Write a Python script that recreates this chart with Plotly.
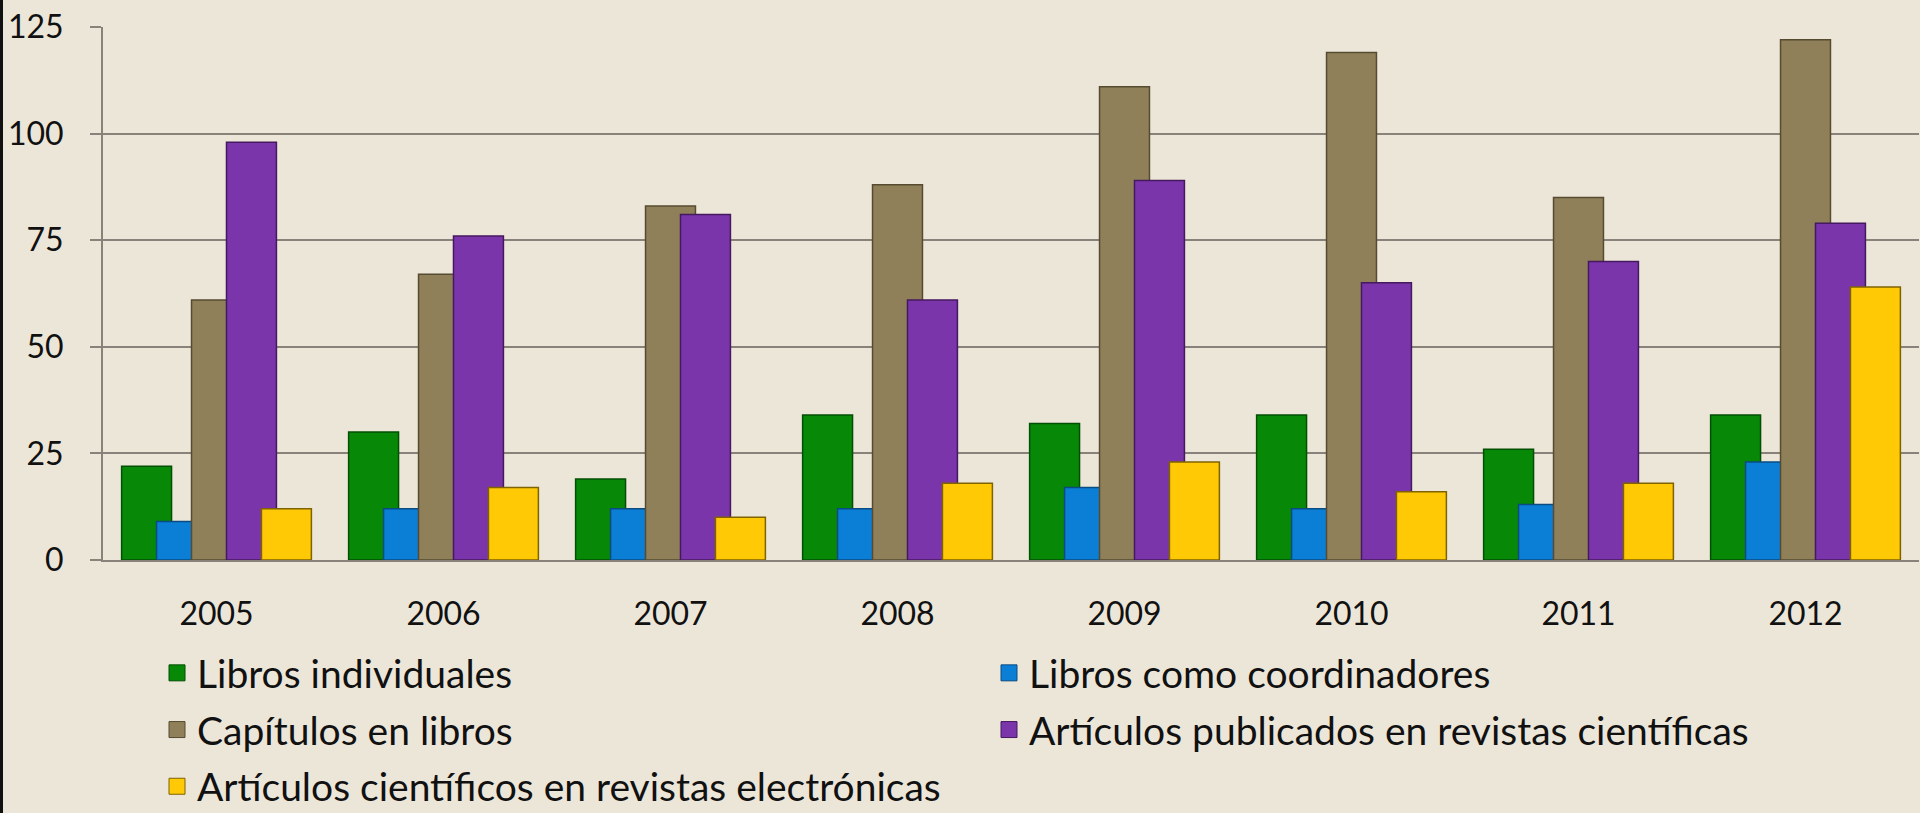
import plotly.graph_objects as go

years = ["2005", "2006", "2007", "2008", "2009", "2010", "2011", "2012"]
series_names = [
    "Libros individuales",
    "Libros como coordinadores",
    "Capítulos en libros",
    "Artículos publicados en revistas científicas",
    "Artículos científicos en revistas electrónicas",
]
libros_individuales = [22, 30, 19, 34, 32, 34, 26, 34]
libros_coordinadores = [9, 12, 12, 12, 17, 12, 13, 23]
capitulos_libros = [61, 67, 83, 88, 111, 119, 85, 122]
articulos_revistas = [98, 76, 81, 61, 89, 65, 70, 79]
articulos_electronicas = [12, 17, 10, 18, 23, 16, 18, 64]
y_ticks = [0, 25, 50, 75, 100, 125]

series_values = [libros_individuales, libros_coordinadores, capitulos_libros,
                 articulos_revistas, articulos_electronicas]
fill_colors = ["#078807", "#0B7ED6", "#8F8059", "#7A35AA", "#FFC905"]
line_colors = ["#034F03", "#0A4C82", "#564B31", "#45195F", "#7E6300"]
legend_column = ["legend", "legend2", "legend", "legend2", "legend"]

BG = "#ECE6D9"
GRID = "#88827A"
FONT = "Lato"

bar_w = 0.22
step = 0.154
first_off = -0.418

fig = go.Figure()
for i, (name, vals) in enumerate(zip(series_names, series_values)):
    fig.add_trace(go.Bar(
        x=years, y=vals, name=name, legendgroup=name, showlegend=False,
        width=bar_w, offset=first_off + i * step,
        marker=dict(color=fill_colors[i], line=dict(color=line_colors[i], width=1.5)),
    ))
# legend entries (larger square swatches)
for i, name in enumerate(series_names):
    fig.add_trace(go.Scatter(
        x=[None], y=[None], mode="markers", name=name, legendgroup=name,
        legend=legend_column[i],
        marker=dict(symbol="square", size=16, color=fill_colors[i],
                    line=dict(color=line_colors[i], width=1)),
    ))

W, H = 1920, 813
ML, MR, MT, MB = 103, 1, 27, 253
PW = W - ML - MR
PH = H - MT - MB

legend_common = dict(
    orientation="v", xanchor="left", yanchor="top", y=-(641 - (H - MB)) / PH,
    font=dict(family=FONT, size=39, color="#111111"),
    bgcolor="rgba(0,0,0,0)", traceorder="grouped", tracegroupgap=3,
    itemclick=False, itemdoubleclick=False,
)

fig.update_layout(
    width=W, height=H,
    margin=dict(l=ML, r=MR, t=MT, b=MB, autoexpand=False),
    paper_bgcolor=BG, plot_bgcolor=BG,
    barmode="overlay",
    font=dict(family=FONT, color="#111111"),
    showlegend=True,
    legend=dict(x=(157 - ML) / PW, **legend_common),
    legend2=dict(x=(989 - ML) / PW, **legend_common),
    shapes=[dict(type="rect", xref="paper", yref="paper",
                 x0=-ML / PW, x1=(-ML + 3) / PW, y0=-MB / PH, y1=1 + MT / PH,
                 fillcolor="#111111", line=dict(width=0), layer="above")],
)
fig.update_xaxes(
    type="category", range=[-0.5, len(years) - 0.5],
    showgrid=False, showline=True, linecolor=GRID, linewidth=2,
    ticks="", tickfont=dict(family=FONT, size=32, color="#111111"),
    ticklabelstandoff=25, zeroline=False,
)
fig.update_yaxes(
    range=[0, 125], tickvals=y_ticks, ticktext=[str(v) for v in y_ticks],
    showgrid=True, gridcolor=GRID, gridwidth=2,
    showline=True, linecolor=GRID, linewidth=2,
    ticks="outside", ticklen=11, tickcolor=GRID, tickwidth=2,
    tickfont=dict(family=FONT, size=32, color="#111111"),
    ticklabelstandoff=20, zeroline=False,
)

fig.write_html(
    "out.html",
    config={"displayModeBar": False},
    post_script="document.body.style.margin='0';document.body.style.overflow='hidden';",
)
